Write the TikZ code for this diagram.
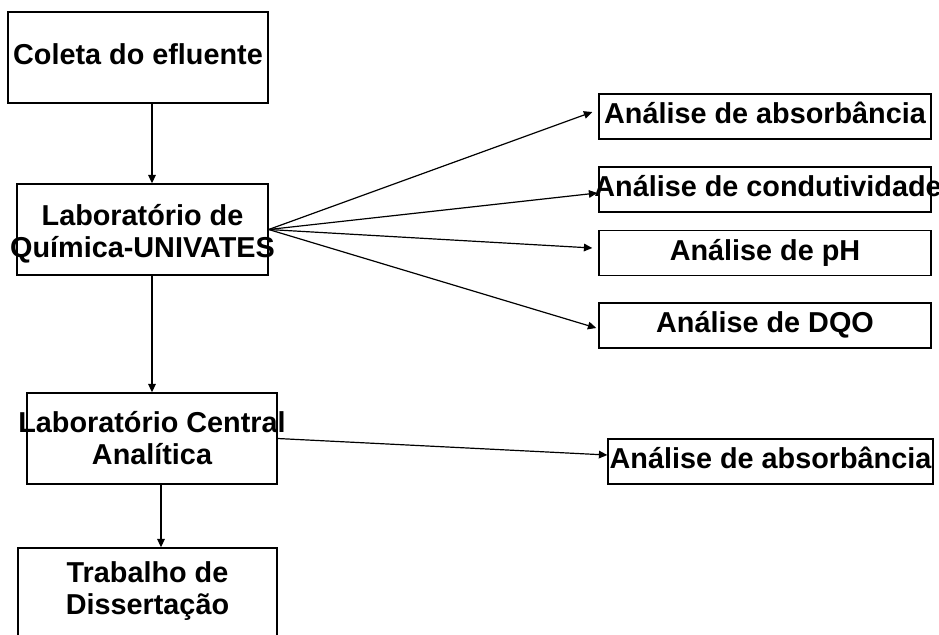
\documentclass[tikz,border=0pt]{standalone}
\usepackage{fontspec}
\setmainfont{Liberation Sans}
\usetikzlibrary{arrows.meta}

\begin{document}
\begin{tikzpicture}[x=0.5pt,y=-0.5pt,
    caixa/.style={draw, line width=0.7pt, inner sep=0pt},
    rotulo/.style={align=center, inner sep=0pt, font=\fontsize{14.4}{16}\selectfont\bfseries},
    linha/.style={rotulo, text height=0.9em, text depth=0.184em},
    seta/.style={-{Triangle[length=4.2pt,width=3.8pt]}, line width=0.6pt}]
        \useasboundingbox (0,0) rectangle (939,634);
        \clip (0,0) rectangle (939,634);
        \node[caixa, minimum width=130pt, minimum height=45.5pt] (coleta) at (138,57.5) {};
        \node[caixa, minimum width=125.5pt, minimum height=45.5pt] (quimica) at (142.5,229.5) {};
        \node[caixa, minimum width=125pt, minimum height=45.5pt] (central) at (152,438.5) {};
        \node[caixa, minimum width=129.5pt, minimum height=45.5pt] (dissert) at (147.5,593.5) {};
        \node[caixa, minimum width=166pt, minimum height=22.5pt] (abs1) at (765,116.5) {};
        \node[caixa, minimum width=166pt, minimum height=22.5pt] (cond) at (765,189.5) {};
        \node[caixa, minimum width=166pt, minimum height=22.5pt] (ph) at (765,253) {};
        \node[caixa, minimum width=166pt, minimum height=22.5pt] (dqo) at (765,325.5) {};
        \node[caixa, minimum width=162.5pt, minimum height=22.5pt] (abs2) at (770.5,461.5) {};
%        textos
        \node[linha] (coleta-t) at (coleta) {Coleta do efluente};
        \node[rotulo] (quimica-t) at (142.5,234) {Laboratório de\\Química-UNIVATES};
        \node[rotulo] (central-t) at (152,438) {Laboratório Central\\Analítica};
        \node[rotulo] (dissert-t) at (147.5,591) {Trabalho de\\Dissertação};
        \node[linha] (abs1-t) at (abs1) {Análise de absorbância};
        \node[linha] (cond-t) at (768,189.5) {Análise de condutividade};
        \node[linha] (ph-t) at (ph) {Análise de pH};
        \node[linha] (dqo-t) at (dqo) {Análise de DQO};
        \node[linha] (abs2-t) at (abs2) {Análise de absorbância};
%        setas
        \draw[seta] (coleta.south -| central) -- (quimica.north -| central);
        \draw[seta] (quimica.south -| central) -- (central.north);
        \draw[seta] ([xshift=4.5pt]central.south) -- ([xshift=4.5pt]central.south |- dissert.north);
        \foreach \alvo/\dx/\dy in {abs1/-3/2.25, cond/-0.5/-1.75, ph/-3/2.5, dqo/-1/-1.25}
            \draw[seta] (quimica.east) -- ([xshift=\dx pt,yshift=\dy pt]\alvo.west);
        \draw[seta] (central.east) -- ([yshift=3.25pt]abs2.west);
      \end{tikzpicture}
\end{document}
